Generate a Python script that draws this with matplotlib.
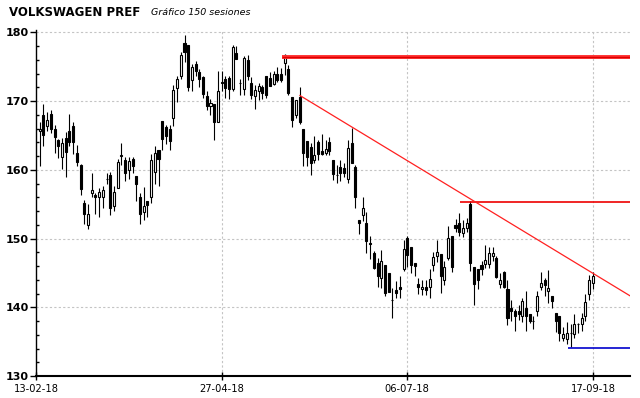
import matplotlib
matplotlib.use("Agg")
import matplotlib.pyplot as plt
from matplotlib.ticker import MultipleLocator, FixedLocator

# ---- data ----
opens = [165.6, 167.9, 166.4, 168.1, 166.0, 164.4, 161.8, 164.6, 165.7, 166.4,
         162.4, 160.7, 155.1, 152.0, 156.6, 156.4, 156.0, 156.0, 158.6, 159.3,
         154.7, 157.4, 162.0, 161.4, 159.9, 161.6, 159.1, 156.0, 153.8, 155.5,
         156.0, 159.7, 162.9, 167.1, 166.2, 166.0, 167.5, 171.9, 173.6, 178.5,
         178.2, 173.0, 175.4, 174.2, 173.5, 170.7, 169.3, 169.5, 167.0, 172.7,
         173.2, 173.3, 171.7, 177.0, 172.6, 171.7, 176.0, 172.6, 170.8, 171.4,
         172.1, 173.7, 173.3, 172.5, 174.0, 173.9, 175.6, 174.7, 170.6, 168.0,
         170.6, 165.9, 164.2, 163.3, 161.4, 164.0, 162.7, 162.4, 164.1, 161.4,
         159.3, 160.4, 160.2, 158.6, 163.9, 160.4, 152.7, 153.4, 152.2, 149.3,
         147.9, 146.4, 144.2, 146.1, 145.0, 141.1, 142.5, 142.9, 145.5, 150.1,
         148.8, 146.5, 143.4, 142.6, 143.0, 142.9, 146.2, 147.4, 147.7, 143.9,
         147.2, 150.3, 152.0, 152.2, 150.8, 151.6, 155.0, 145.8, 145.5, 146.2,
         146.3, 146.3, 147.5, 147.1, 143.4, 145.1, 142.7, 139.9, 139.5, 139.5,
         138.7, 139.9, 139.0, 138.0, 139.5, 143.0, 143.9, 142.3, 141.6, 139.2,
         138.7, 135.6, 135.4, 136.2, 136.1, 137.6, 137.5, 138.7, 141.9, 143.5]
highs = [166.9, 169.5, 168.4, 168.7, 166.5, 164.5, 164.6, 165.5, 168.1, 166.9,
         163.6, 160.8, 155.6, 155.0, 159.5, 156.6, 157.3, 157.7, 159.5, 159.7,
         157.7, 161.5, 163.9, 161.8, 161.9, 161.9, 159.1, 156.6, 157.5, 155.5,
         162.3, 163.4, 162.9, 167.1, 166.5, 166.5, 172.4, 173.7, 177.2, 179.6,
         178.2, 175.4, 175.8, 174.7, 173.7, 171.5, 170.3, 169.5, 174.4, 174.3,
         173.7, 173.6, 178.2, 178.0, 173.2, 176.5, 176.7, 173.5, 172.3, 172.6,
         172.3, 173.7, 174.2, 174.3, 174.9, 174.8, 176.9, 175.2, 170.6, 170.2,
         172.1, 165.9, 164.2, 163.9, 164.9, 164.4, 165.2, 164.4, 164.7, 161.4,
         160.7, 161.4, 161.0, 164.4, 166.1, 160.7, 152.7, 156.1, 153.9, 150.3,
         148.2, 147.1, 148.4, 146.1, 145.0, 142.8, 143.8, 144.5, 149.8, 150.3,
         148.8, 146.5, 144.2, 144.0, 144.0, 145.5, 148.0, 149.8, 147.7, 146.7,
         151.8, 150.3, 152.8, 153.7, 152.7, 153.0, 155.4, 145.8, 145.5, 146.8,
         149.1, 148.8, 148.7, 147.4, 145.0, 145.3, 143.9, 141.1, 139.8, 140.3,
         141.3, 142.3, 139.0, 138.7, 142.3, 145.1, 144.3, 145.4, 141.6, 139.2,
         138.7, 137.2, 137.9, 137.5, 139.0, 137.7, 139.2, 141.9, 144.7, 145.2]
lows = [160.5, 163.4, 165.7, 165.3, 162.4, 161.7, 160.1, 159.0, 163.4, 162.3,
        160.6, 156.3, 152.1, 151.4, 156.0, 153.6, 153.2, 154.5, 157.9, 153.4,
        154.0, 157.4, 160.7, 158.4, 158.7, 159.5, 155.4, 152.1, 152.7, 153.1,
        155.2, 157.9, 157.7, 162.9, 163.8, 162.9, 166.4, 169.9, 173.2, 175.7,
        171.5, 171.5, 173.7, 172.1, 170.5, 168.7, 168.0, 164.4, 167.0, 171.4,
        170.4, 170.3, 171.5, 176.1, 170.9, 170.9, 173.0, 170.3, 168.9, 170.2,
        170.3, 170.5, 172.2, 172.3, 172.7, 172.7, 173.8, 170.9, 166.2, 167.6,
        166.7, 160.6, 160.6, 159.2, 161.0, 161.4, 162.2, 162.2, 162.2, 158.5,
        158.1, 158.3, 159.0, 158.1, 161.0, 154.4, 150.7, 152.6, 147.9, 147.0,
        145.5, 143.0, 142.8, 141.6, 142.2, 138.5, 141.3, 141.4, 145.3, 145.8,
        145.0, 144.5, 141.9, 141.8, 141.8, 141.4, 145.3, 146.6, 142.1, 143.2,
        146.9, 145.2, 150.9, 150.4, 150.2, 150.9, 145.3, 140.3, 142.7, 144.7,
        145.7, 145.7, 146.7, 144.2, 142.8, 142.8, 137.4, 138.0, 136.6, 138.2,
        137.9, 136.6, 137.7, 136.9, 138.8, 142.5, 141.7, 140.6, 139.9, 136.4,
        135.1, 135.1, 134.6, 134.2, 135.5, 136.3, 136.5, 138.0, 141.1, 142.7]
closes = [166.0, 165.0, 167.3, 165.9, 164.8, 163.5, 163.9, 162.6, 164.0, 164.0,
          161.1, 157.2, 153.6, 153.5, 157.1, 156.1, 156.8, 157.0, 158.65, 154.5,
          156.8, 161.1, 162.1, 159.5, 161.3, 160.5, 158.0, 153.6, 154.8, 154.9,
          161.4, 162.4, 161.5, 164.5, 164.9, 164.2, 171.6, 173.2, 176.7, 177.2,
          172.1, 174.9, 174.3, 173.2, 171.0, 169.3, 169.7, 167.0, 171.5, 172.6,
          171.9, 171.8, 177.8, 176.1, 172.55, 176.2, 173.7, 170.9, 171.6, 172.2,
          171.2, 170.9, 172.2, 174.0, 173.1, 173.1, 176.7, 171.1, 167.3, 170.2,
          167.0, 162.5, 161.9, 161.0, 162.2, 162.3, 162.3, 163.0, 162.8, 159.4,
          159.25, 159.5, 159.6, 163.2, 161.0, 156.0, 152.2, 154.4, 149.6, 149.25,
          145.7, 144.5, 146.7, 142.1, 142.2, 141.05, 142.1, 142.6, 148.5, 147.6,
          146.2, 146.0, 142.9, 143.0, 142.5, 144.1, 147.3, 148.0, 144.6, 145.8,
          150.1, 145.9, 151.6, 151.0, 151.5, 152.2, 146.5, 143.4, 144.0, 145.5,
          146.9, 147.9, 147.9, 144.4, 144.0, 143.0, 138.4, 139.4, 138.7, 139.0,
          140.9, 138.8, 138.0, 137.95, 141.6, 143.5, 143.3, 142.8, 140.9, 138.0,
          136.3, 136.1, 136.2, 136.3, 137.6, 137.55, 138.4, 140.8, 144.0, 144.6]

date_labels = ["13-02-18", "27-04-18", "06-07-18", "17-09-18"]
date_sessions = [0, 50, 100, 150]
price_ticks = [130, 140, 150, 160, 170, 180]

resistance_major = 176.4            # thick red line
resistance_major_from = 66.2
resistance_minor = 155.3            # thin red horizontal
resistance_minor_from = 114.2
support_level = 134.1               # blue line
support_from = 143.3
trend_sessions = [71.1, 160.2]      # downward trend line
trend_prices = [170.8, 141.6]

title = "VOLKSWAGEN PREF"
subtitle = "Gráfico 150 sesiones"

# ---- figure ----
fig = plt.figure(figsize=(6.4, 3.98), dpi=100)
ax = fig.add_axes([36 / 640, 1 - 376 / 398, (630 - 36) / 640, (376 - 30) / 398])

n = len(opens)
xs = list(range(1, n + 1))
XMAX = 160.0
ax.set_xlim(0, XMAX)
ax.set_ylim(130, 180.33)

# grid
for p in price_ticks[1:]:
    ax.axhline(p, color="#c4c4c4", lw=0.8, dashes=(2, 2), zorder=0)
for s in date_sessions[1:]:
    ax.axvline(s, color="#c4c4c4", lw=0.8, dashes=(2, 2), zorder=0)

# candles
body_w = 0.55
for x, o, h, l, c in zip(xs, opens, highs, lows, closes):
    ax.vlines(x, l, h, color="black", lw=0.8, zorder=2)
    up = c >= o
    bottom = min(o, c)
    height = max(abs(c - o), 0.04)
    ax.bar(x, height, bottom=bottom, width=body_w,
           facecolor="white" if up else "black", edgecolor="black",
           lw=0.8, zorder=3)

# annotation lines
ax.hlines(resistance_major, resistance_major_from, XMAX, color="#ff3030", lw=2.8, zorder=4)
ax.hlines(resistance_major, resistance_major_from, XMAX, color="#dd0000", lw=1.0, zorder=4)
ax.hlines(resistance_minor, resistance_minor_from, XMAX, color="#ee0000", lw=1.2, zorder=4)
ax.hlines(support_level, support_from, XMAX, color="#0000cc", lw=1.2, zorder=4)
ax.plot(trend_sessions, trend_prices, color="#ff2020", lw=0.9, zorder=4)

# axes styling
for side in ["top", "right"]:
    ax.spines[side].set_visible(False)
ax.spines["left"].set_linewidth(1.0)
ax.spines["bottom"].set_linewidth(1.5)

ax.set_yticks(price_ticks)
ax.set_yticklabels([str(p) for p in price_ticks],
                   fontfamily="DejaVu Sans", fontweight="bold", fontsize=8)
ax.yaxis.set_minor_locator(MultipleLocator(2))
ax.tick_params(axis="y", which="major", direction="out", length=4.5, width=1, pad=0.5)
ax.tick_params(axis="y", which="minor", direction="in", length=2.5, width=1)

ax.set_xticks(date_sessions)
ax.set_xticklabels(date_labels, fontfamily="DejaVu Sans", fontsize=7.1)
ax.tick_params(axis="x", which="major", direction="inout", length=6, width=1, pad=3)

fig.text(9 / 640, 1 - 15.7 / 398, title, fontfamily="DejaVu Sans",
         fontweight="bold", fontsize=8.5, va="baseline", ha="left")
fig.text(151 / 640, 1 - 15.3 / 398, subtitle, fontfamily="DejaVu Sans",
         fontstyle="italic", fontsize=6.8, va="baseline", ha="left")

fig.savefig("out.png", dpi=100)
